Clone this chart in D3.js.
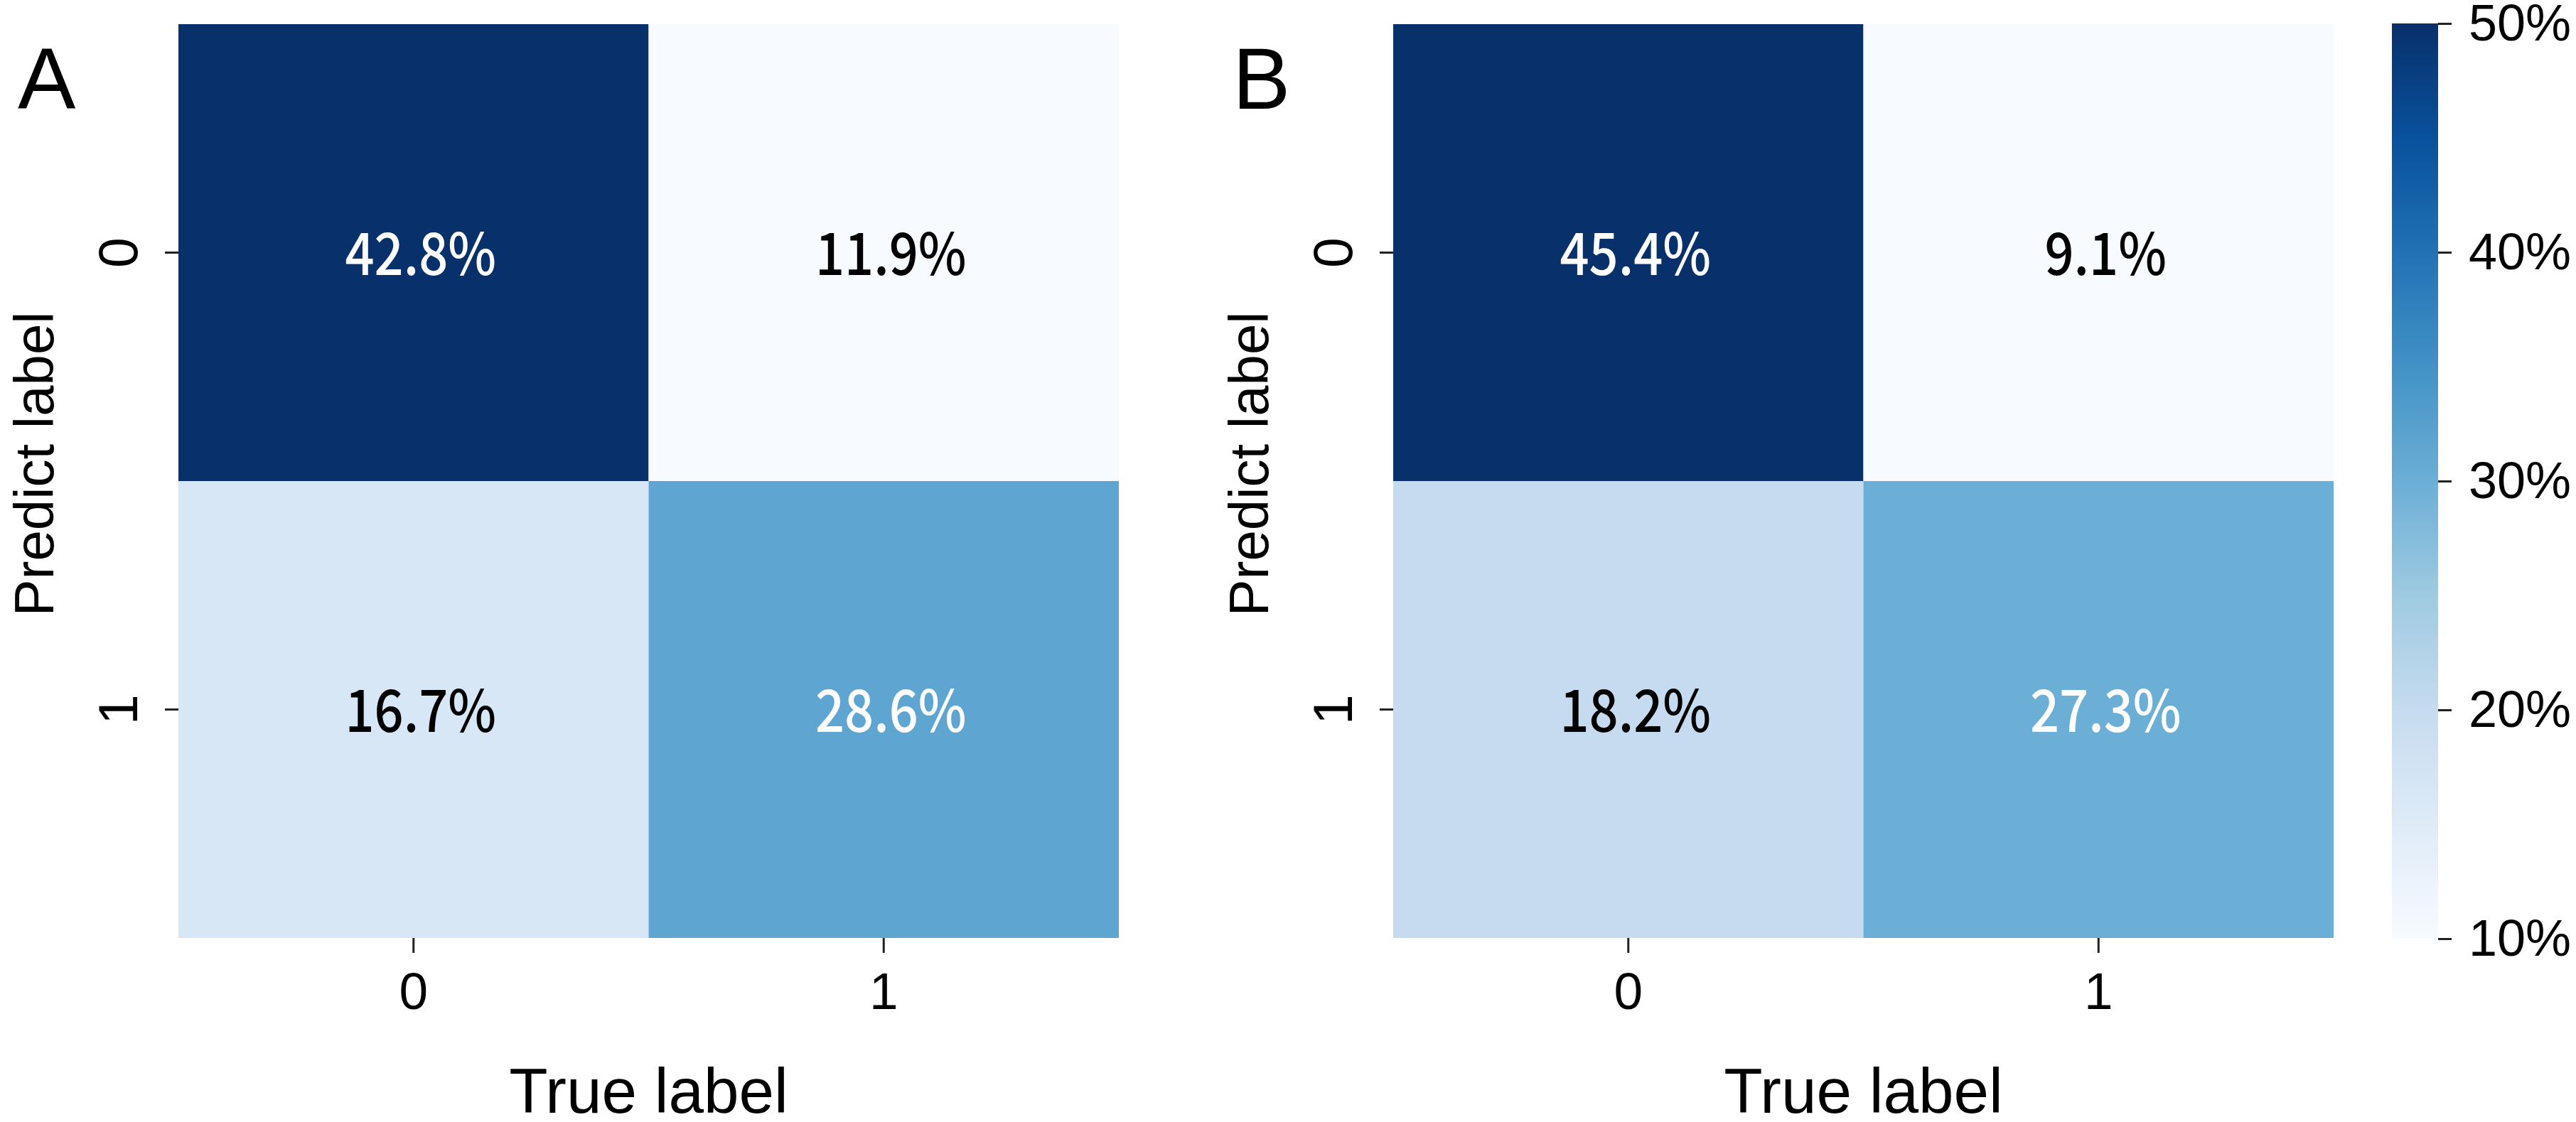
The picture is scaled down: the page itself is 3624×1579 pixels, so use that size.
<!DOCTYPE html>
<html>
<head>
<meta charset="utf-8">
<script src="https://cdn.jsdelivr.net/npm/d3@7"></script>
<style>
    body { margin: 0; background: #fff; }
    svg { display: block; }
    .axis .domain { display: none; }
    .axis line { stroke: #222; stroke-width: 3; }
    .axis text { font-family: "Liberation Sans", Arial, sans-serif; fill: #000; }
</style>
</head>
<body>
<div id="chart"></div>
<script>
// confusion matrix values (% of samples), rows = predicted, cols = true
const rowLabels = ["0", "1"];
const colLabels = ["0", "1"];
const panelLetters = ["A", "B"];
const valuesA = [[42.8, 11.9], [16.7, 28.6]];
const valuesB = [[45.4, 9.1], [18.2, 27.3]];
const colorbarTicks = [10, 20, 30, 40, 50];
const colorbarRange = [10, 50];

// matplotlib "Blues" control colours
const bluesStops = ["#f7fbff", "#deebf7", "#c6dbef", "#9ecae1", "#6baed6", "#4292c6", "#2171b5", "#08519c", "#08306b"];
const blues = d3.piecewise(d3.interpolateRgb, bluesStops);

const W = 3624, H = 1579;
const cfg = {
    top: 34,
    width: 1323,
    height: 1286,
    lefts: [251, 1960],
    cbar: { left: 3365, width: 65, top: 33, bottom: 1321 },
};

const svg = d3.select("#chart").append("svg").attr("width", W).attr("height", H);

// seaborn-style annotation colour: dark text on light cells
function textColor(c) {
    const rgb = d3.rgb(c);
    const lin = (v) => { v /= 255; return v <= 0.03928 ? v / 12.92 : Math.pow((v + 0.055) / 1.055, 2.4); };
    const lum = 0.2126 * lin(rgb.r) + 0.7152 * lin(rgb.g) + 0.0722 * lin(rgb.b);
    return lum > 0.408 ? "#000" : "#fff";
}

function drawPanel(values, left, letter) {
    const g = svg.append("g").attr("transform", `translate(${left},${cfg.top})`);
    const x = d3.scaleBand().domain(colLabels).range([0, cfg.width]);
    const y = d3.scaleBand().domain(rowLabels).range([0, cfg.height]);

    const cells = values.flatMap((row, i) => row.map((v, j) => ({ row: rowLabels[i], col: colLabels[j], v })));
    const color = d3.scaleSequential(blues).domain(d3.extent(cells, (d) => d.v));

    g.selectAll(".cell").data(cells).enter()
        .append("rect")
        .attr("class", "cell")
        .attr("x", (d) => x(d.col))
        .attr("y", (d) => y(d.row))
        .attr("width", x.bandwidth())
        .attr("height", y.bandwidth())
        .attr("fill", (d) => color(d.v));

    g.selectAll(".annot").data(cells).enter()
        .append("text")
        .attr("class", "annot")
        .attr("transform", (d) => `translate(${x(d.col) + x.bandwidth() / 2 + 10},${y(d.row) + y.bandwidth() / 2 - 5}) scale(0.88,1)`)
        .attr("text-anchor", "middle")
        .attr("dominant-baseline", "central")
        .style("font-family", "'Noto Sans CJK SC', 'Noto Sans', sans-serif")
        .style("font-size", "82px")
        .style("font-weight", 500)
        .attr("fill", (d) => textColor(color(d.v)))
        .text((d) => `${d.v.toFixed(1)}%`);

    const xAxis = g.append("g")
        .attr("class", "axis")
        .attr("transform", `translate(0,${cfg.height})`)
        .call(d3.axisBottom(x).tickSize(21).tickPadding(27));
    xAxis.selectAll("text").style("font-size", "73px");

    const yAxis = g.append("g")
        .attr("class", "axis")
        .call(d3.axisLeft(y).tickSize(19).tickPadding(0));
    yAxis.selectAll("text")
        .style("font-size", "77px")
        .attr("text-anchor", "middle")
        .attr("dy", null)
        .attr("x", null)
        .attr("transform", "translate(-58,0) rotate(-90)");

    g.append("text")
        .attr("x", cfg.width / 2)
        .attr("y", 1566 - cfg.top)
        .attr("text-anchor", "middle")
        .style("font-family", "'Liberation Sans', Arial, sans-serif")
        .style("font-size", "89px")
        .text("True label");

    g.append("text")
        .attr("transform", `translate(-176,${653 - cfg.top}) rotate(-90)`)
        .attr("text-anchor", "middle")
        .style("font-family", "'Liberation Sans', Arial, sans-serif")
        .style("font-size", "78px")
        .text("Predict label");

    g.append("text")
        .attr("x", -226)
        .attr("y", 153 - cfg.top)
        .style("font-family", "'Liberation Sans', Arial, sans-serif")
        .style("font-size", "122px")
        .text(letter);
}

drawPanel(valuesA, cfg.lefts[0], panelLetters[0]);
drawPanel(valuesB, cfg.lefts[1], panelLetters[1]);

// colour bar
const defs = svg.append("defs");
const grad = defs.append("linearGradient")
    .attr("id", "cbar-grad")
    .attr("x1", 0).attr("y1", 1).attr("x2", 0).attr("y2", 0);
grad.selectAll("stop").data(bluesStops).enter()
    .append("stop")
    .attr("offset", (d, i) => i / (bluesStops.length - 1))
    .attr("stop-color", (d) => d);

svg.append("rect")
    .attr("x", cfg.cbar.left)
    .attr("y", cfg.cbar.top)
    .attr("width", cfg.cbar.width)
    .attr("height", cfg.cbar.bottom - cfg.cbar.top)
    .attr("fill", "url(#cbar-grad)");

const cScale = d3.scaleLinear().domain(colorbarRange).range([cfg.cbar.bottom, cfg.cbar.top]);
const cAxis = svg.append("g")
    .attr("class", "axis")
    .attr("transform", `translate(${cfg.cbar.left + cfg.cbar.width},0)`)
    .call(d3.axisRight(cScale).tickValues(colorbarTicks).tickSize(19).tickPadding(24).tickFormat((d) => `${d}%`));
cAxis.selectAll("text").style("font-size", "72px");
</script>
</body>
</html>
